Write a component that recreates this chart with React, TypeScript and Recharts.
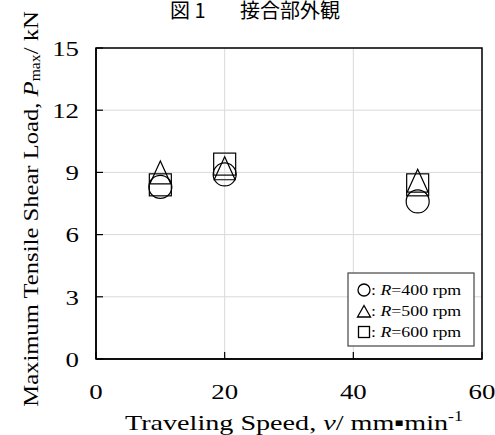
import React from 'react';
import {
  ScatterChart,
  Scatter,
  XAxis,
  YAxis,
  CartesianGrid,
  ReferenceArea,
  Label,
} from 'recharts';

const speeds = [10, 20, 50];
const load400 = [8.3, 8.9, 7.6];
const load500 = [9.0, 9.2, 8.6];
const load600 = [8.4, 9.4, 8.4];
const xTicks = [0, 20, 40, 60];
const yTicks = [0, 3, 6, 9, 12, 15];
const seriesNames = ['R=400 rpm', 'R=500 rpm', 'R=600 rpm'];

const toPoints = (loads: number[]) => speeds.map((v, i) => ({ v, p: loads[i] }));

const serif = '"Liberation Serif", "Times New Roman", serif';

// the source figure is a bit stretched sideways, so the tick text is widened
const StretchTick = (props: any) => {
  const { x, y, payload, textAnchor, orientation } = props;
  const dy = orientation === 'bottom' ? '0.71em' : '0.355em';
  return (
    <text
      transform={`translate(${x},${y}) scale(1.22,1)`}
      textAnchor={textAnchor}
      dy={dy}
      fontFamily={serif}
      fontSize={22}
      fill="#000"
    >
      {payload.value}
    </text>
  );
};

const CircleMark = (props: any) => (
  <circle cx={props.cx} cy={props.cy} r={11.5} fill="none" stroke="#000" strokeWidth={1.2} />
);

const TriangleMark = (props: any) => {
  const { cx, cy } = props;
  const h = 23;
  const w = 21;
  return (
    <polygon
      points={`${cx},${cy - h / 2} ${cx - w / 2},${cy + h / 2} ${cx + w / 2},${cy + h / 2}`}
      fill="none"
      stroke="#000"
      strokeWidth={1.2}
    />
  );
};

const SquareMark = (props: any) => (
  <rect x={props.cx - 11} y={props.cy - 11} width={22} height={22} fill="none" stroke="#000" strokeWidth={1.2} />
);

const YLabel = () => (
  <text
    transform="translate(30,209) rotate(-90) scale(1.12,1)"
    textAnchor="middle"
    dominantBaseline="central"
    fontFamily={serif}
    fontSize={22}
    fill="#000"
  >
    Maximum Tensile Shear Load, <tspan fontStyle="italic">P</tspan>
    <tspan fontSize={14} dy={5}>max</tspan>
    <tspan dy={-5}>/ kN</tspan>
  </text>
);

const XLabel = () => (
  <text
    transform="translate(294,430) scale(1.28,1)"
    textAnchor="middle"
    fontFamily={serif}
    fontSize={22}
    fill="#000"
  >
    Traveling Speed, <tspan fontStyle="italic">v</tspan>/ mm{'\u25AA'}min
    <tspan fontSize={14} dy={-9}>-1</tspan>
  </text>
);

const Overlay = () => (
  <svg
    width={495}
    height={435}
    style={{ position: 'absolute', left: 0, top: 0, pointerEvents: 'none' }}
  >
    <text x={170} y={18} fontFamily='"Noto Sans CJK JP", sans-serif' fontSize={20} fill="#000">
      図 1
    </text>
    <text x={240} y={18} fontFamily='"Noto Sans CJK JP", sans-serif' fontSize={20} fill="#000">
      接合部外観
    </text>
    <rect x={348} y={273} width={126} height={73} fill="#fff" stroke="#444" strokeWidth={1.2} />
    <circle cx={364} cy={290} r={6} fill="none" stroke="#000" strokeWidth={1.3} />
    <polygon points="364,305.5 357.5,317 370.5,317" fill="none" stroke="#000" strokeWidth={1.3} />
    <rect x={358.5} y={326.5} width={11} height={11} fill="none" stroke="#000" strokeWidth={1.3} />
    {seriesNames.map((name, i) => (
      <text
        key={name}
        transform={`translate(371,${295 + i * 21}) scale(1.15,1)`}
        fontFamily={serif}
        fontSize={15.5}
        fill="#000"
      >
        : <tspan fontStyle="italic">R</tspan>
        {name.slice(1)}
      </text>
    ))}
  </svg>
);

export default function App() {
  return (
    <div style={{ position: 'absolute', left: 0, top: 0, width: 495, height: 435, background: '#fff' }}>
      <ScatterChart width={495} height={435} margin={{ top: 48, right: 13, bottom: 0, left: 0 }}>
        <CartesianGrid stroke="#d9d9d9" strokeWidth={1} />
        <XAxis
          type="number"
          dataKey="v"
          domain={[0, 60]}
          ticks={xTicks}
          height={76}
          axisLine={{ stroke: '#000', strokeWidth: 1.5 }}
          tickLine={{ stroke: '#000', strokeWidth: 1.2 }}
          tickSize={-7}
          tickMargin={31}
          tick={<StretchTick orientation="bottom" />}
          interval={0}
        >
          <Label content={<XLabel />} />
        </XAxis>
        <YAxis
          type="number"
          dataKey="p"
          domain={[0, 15]}
          ticks={yTicks}
          width={96}
          axisLine={{ stroke: '#000', strokeWidth: 1.5 }}
          tickLine={{ stroke: '#000', strokeWidth: 1.2 }}
          tickSize={-7}
          tickMargin={24}
          tick={<StretchTick orientation="left" />}
          interval={0}
        >
          <Label content={<YLabel />} />
        </YAxis>
        <ReferenceArea x1={0} x2={60} y1={0} y2={15} fill="none" stroke="#000" strokeWidth={1.5} />
        <Scatter data={toPoints(load400)} shape={<CircleMark />} isAnimationActive={false} />
        <Scatter data={toPoints(load500)} shape={<TriangleMark />} isAnimationActive={false} />
        <Scatter data={toPoints(load600)} shape={<SquareMark />} isAnimationActive={false} />
      </ScatterChart>
      <Overlay />
    </div>
  );
}
